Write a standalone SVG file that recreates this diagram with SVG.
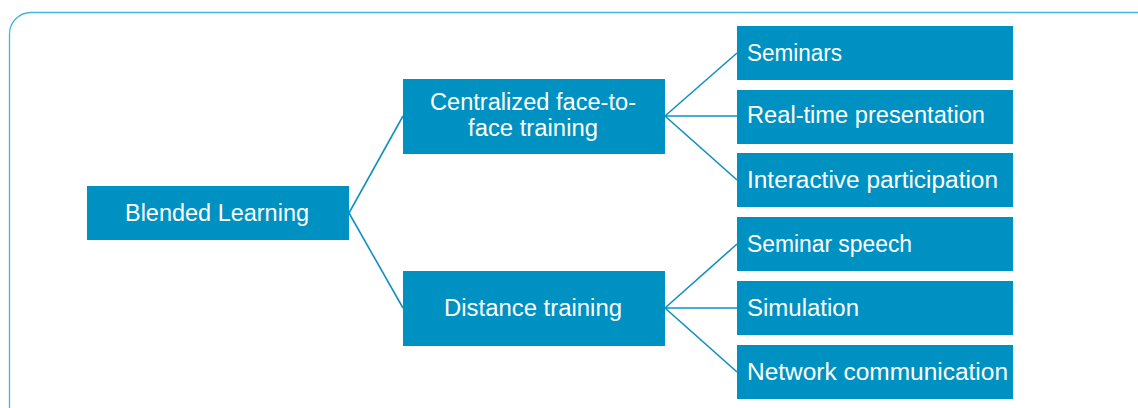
<svg xmlns="http://www.w3.org/2000/svg" width="1138" height="408" viewBox="0 0 1138 408">
<style>
.frame{fill:none;stroke:#45b4de;stroke-width:1.3}
.box{fill:#0091c3}
.t{font-family:"Liberation Sans",Arial,sans-serif;font-size:23px;fill:#ffffff}
.c{text-anchor:middle}
.conn line{stroke:#1290c2;stroke-width:1.6;fill:none}
</style>
<rect width="1138" height="408" fill="#ffffff"/>
<path class="frame" d="M9.5,430 V34 A21.5,21.5 0 0 1 31,12.5 H1160"/>
<g id="connectors" class="conn">
<line x1="349" y1="213" x2="403" y2="116"/>
<line x1="349" y1="213" x2="403" y2="308"/>
<line x1="665" y1="116" x2="737" y2="53"/>
<line x1="665" y1="116" x2="737" y2="116"/>
<line x1="665" y1="116" x2="737" y2="180"/>
<line x1="665" y1="308" x2="737" y2="244"/>
<line x1="665" y1="308" x2="737" y2="308"/>
<line x1="665" y1="308" x2="737" y2="372"/>
</g>
<g id="blended">
<rect class="box" x="87" y="186" width="262" height="54"/>
<text class="t c" x="217" y="221" textLength="184" lengthAdjust="spacingAndGlyphs">Blended Learning</text>
</g>
<g id="centralized">
<rect class="box" x="403" y="79" width="262" height="75"/>
<text class="t c" x="533" y="109.5" textLength="206" lengthAdjust="spacingAndGlyphs">Centralized face-to-</text>
<text class="t c" x="533" y="135.5" textLength="130" lengthAdjust="spacingAndGlyphs">face training</text>
</g>
<g id="distance">
<rect class="box" x="403" y="271" width="262" height="75"/>
<text class="t c" x="533" y="316" textLength="178" lengthAdjust="spacingAndGlyphs">Distance training</text>
</g>
<g id="seminars">
<rect class="box" x="737" y="26" width="276" height="54"/>
<text class="t" x="747" y="61" textLength="95" lengthAdjust="spacingAndGlyphs">Seminars</text>
</g>
<g id="realtime">
<rect class="box" x="737" y="90" width="276" height="54"/>
<text class="t" x="747" y="123" textLength="238" lengthAdjust="spacingAndGlyphs">Real-time presentation</text>
</g>
<g id="interactive">
<rect class="box" x="737" y="153" width="276" height="54"/>
<text class="t" x="747" y="188" textLength="251" lengthAdjust="spacingAndGlyphs">Interactive participation</text>
</g>
<g id="seminar-speech">
<rect class="box" x="737" y="217" width="276" height="54"/>
<text class="t" x="747" y="252" textLength="165" lengthAdjust="spacingAndGlyphs">Seminar speech</text>
</g>
<g id="simulation">
<rect class="box" x="737" y="281" width="276" height="54"/>
<text class="t" x="747" y="316" textLength="112" lengthAdjust="spacingAndGlyphs">Simulation</text>
</g>
<g id="network">
<rect class="box" x="737" y="345" width="276" height="54"/>
<text class="t" x="747" y="380" textLength="261" lengthAdjust="spacingAndGlyphs">Network communication</text>
</g>
</svg>
